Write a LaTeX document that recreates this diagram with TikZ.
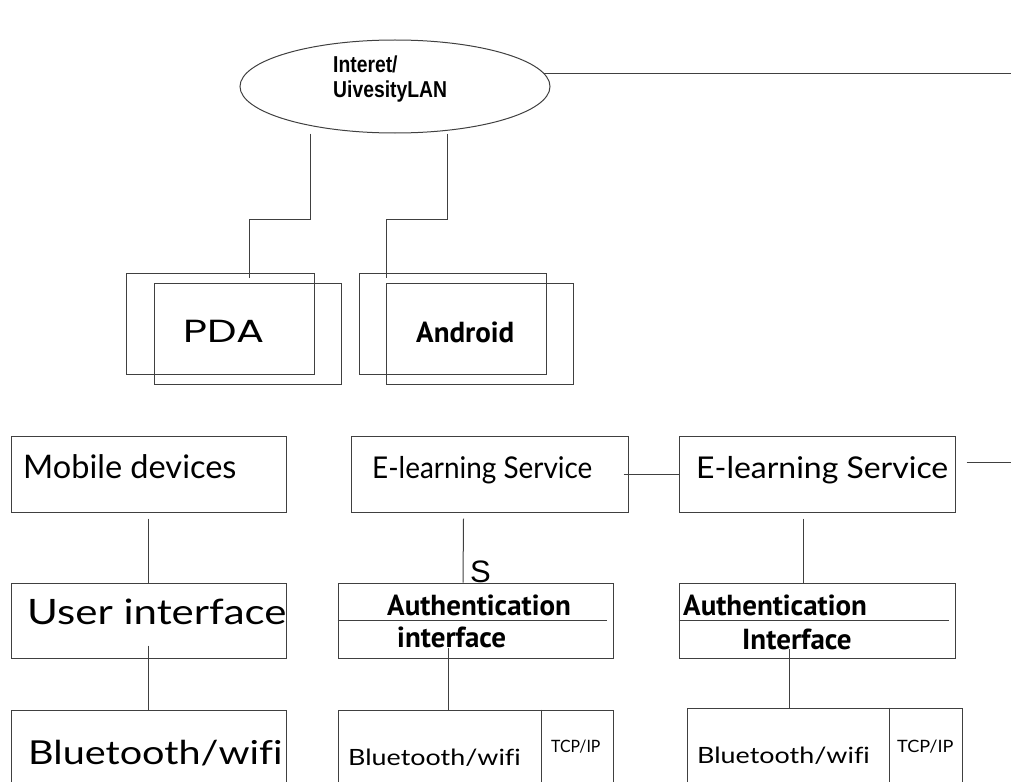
\documentclass[tikz,border=0pt]{standalone}
\usepackage{fontspec}
\setmainfont{Lato}[Ligatures=NoCommon]
\newfontfamily\widefont[FakeStretch=1.2,Ligatures=NoCommon]{Lato}
\newfontfamily\pdafont[FakeStretch=1.3]{Poppins}
\newfontfamily\narrowfont{PT Sans}
\newfontfamily\elfont[FakeStretch=0.93]{Lato}
\newfontfamily\elwidefont[FakeStretch=1.065]{Lato}
\newfontfamily\arialfont{Liberation Sans}
\newfontfamily\netfont[FakeStretch=0.84]{Liberation Sans}
\usetikzlibrary{shapes.geometric}
\tikzstyle{conn}=[draw=black!75,line width=1pt]
\tikzstyle{box}=[conn,minimum width=276pt,minimum height=76pt,inner sep=0pt]
\tikzstyle{dev}=[conn,minimum width=187pt,minimum height=101pt,inner sep=0pt]
\tikzstyle{txt}=[anchor=base west,inner sep=0pt]

\begin{document}
\begin{tikzpicture}[x=1pt,y=-1pt]
\clip (0,0) rectangle (1011,781);
% network
\node[ellipse,conn,minimum width=310pt,minimum height=93pt,inner sep=0pt] at (395,86.5) (net) {};
\node[txt,anchor=north west,align=left,font=\netfont\bfseries\fontsize{23}{24.5}\selectfont] at (333,56) (nettxt) {Interet/\\UivesityLAN};
\coordinate (netend) at (1011,0);
\draw[conn] (net.5) -- (net.5 -| netend);

% devices
\node[dev,minimum width=188pt] at (220,323.5) (pdaback) {};
\node[dev] at (247.5,333.5) (pda) {};
\node[dev] at (452.5,323.5) (andback) {};
\node[dev] at (479.5,333.5) (android) {};
\node[txt,font=\pdafont\fontsize{32}{38}\selectfont] at (183,342) (pdatxt) {PDA};
\node[txt,font=\narrowfont\bfseries\fontsize{29}{34}\selectfont] at (416,342) (androidtxt) {Android};
\draw[conn] ([xshift=-85pt]net.south) -- ++(0,85.5) -| ([xshift=29pt,yshift=-5pt]pdaback.north);
\draw[conn] ([xshift=52pt]net.south) -- ++(0,85.5) -| ([xshift=-66.5pt,yshift=-5pt]andback.north);

% services
\node[box,minimum width=275pt] at (148.5,474) (mob) {};
\node[box,minimum width=277pt] at (489.5,474) (elearn1) {};
\node[box] at (817,474) (elearn2) {};
\node[txt,font=\fontsize{32.5}{38}\selectfont] at (23,478) (mobtxt) {Mobile devices};
\node[txt,font=\elfont\fontsize{30}{36}\selectfont] at (372,478) (el1txt) {E-learning Service};
\node[txt,font=\elwidefont\fontsize{30}{36}\selectfont] at (696,478) (el2txt) {E-learning Service};
\draw[conn] ([xshift=-5pt]elearn1.east) -- (elearn2.west);
\draw[conn] ([xshift=11pt,yshift=12pt]elearn2.east) -- ++(45,0);

% interfaces
\node[box,minimum width=275pt,minimum height=75pt] at (148.5,620.5) (user) {};
\node[box,minimum width=275pt,minimum height=75pt] at (475.5,620.5) (auth1) {};
\node[box,minimum height=75pt] at (817,620.5) (auth2) {};
\draw[conn] (auth1.west) -- ([xshift=-7pt]auth1.east);
\draw[conn] (auth2.west) -- ([xshift=-7pt]auth2.east);
\node[txt,font=\widefont\fontsize{35}{42}\selectfont] at (27,624) (usertxt) {User interface};
\node[txt,font=\narrowfont\bfseries\fontsize{29}{34}\selectfont] at (387,615) (auth1txt) {Authentication};
\node[txt,font=\narrowfont\bfseries\fontsize{29}{34}\selectfont] at (397,647) (if1txt) {interface};
\node[txt,font=\narrowfont\bfseries\fontsize{29}{34}\selectfont] at (683,615) (auth2txt) {Authentication};
\node[txt,font=\narrowfont\bfseries\fontsize{29}{34}\selectfont] at (742,649) (if2txt) {Interface};
\node[txt,font=\arialfont\fontsize{31}{37}\selectfont] at (470,582) (stxt) {S};
\draw[conn] ([yshift=-6pt]mob.south) -- (user.north);
\draw[conn] ([xshift=-26pt,yshift=-6pt]elearn1.south) -- ([xshift=-12.5pt]auth1.north);
\draw[conn] ([xshift=-14pt,yshift=-6pt]elearn2.south) -- ([xshift=-14pt]auth2.north);

% links
\node[box,minimum width=275pt,minimum height=120pt] at (148.5,770) (bt) {};
\node[box,minimum width=275pt,minimum height=120pt] at (475.5,770) (bt2) {};
\node[box,minimum width=275pt,minimum height=120pt] at (824.5,768) (bt3) {};
\draw[conn] ([xshift=-72pt]bt2.north east) -- ([xshift=-72pt]bt2.south east);
\draw[conn] ([xshift=-73pt]bt3.north east) -- ([xshift=-73pt]bt3.south east);
\node[txt,font=\widefont\fontsize{33}{39}\selectfont] at (28,764) (bttxt) {Bluetooth/wifi};
\node[txt,font=\widefont\fontsize{22.4}{27}\selectfont] at (348,765) (bt2txt) {Bluetooth/wifi};
\node[txt,font=\widefont\fontsize{22.4}{27}\selectfont] at (697,763) (bt3txt) {Bluetooth/wifi};
\node[txt,font=\elfont\fontsize{17}{20}\selectfont] at (551,752) (tcp2txt) {TCP/IP};
\node[txt,font=\elwidefont\fontsize{17}{20}\selectfont] at (897,752) (tcp3txt) {TCP/IP};
\draw[conn] ([yshift=13pt]user.south) -- (bt.north);
\draw[conn] ([xshift=-27.5pt,yshift=11pt]auth1.south) -- ([xshift=-27.5pt]bt2.north);
\draw[conn] ([xshift=-28pt,yshift=10pt]auth2.south) -- ([xshift=-35.5pt]bt3.north);
\end{tikzpicture}
\end{document}
